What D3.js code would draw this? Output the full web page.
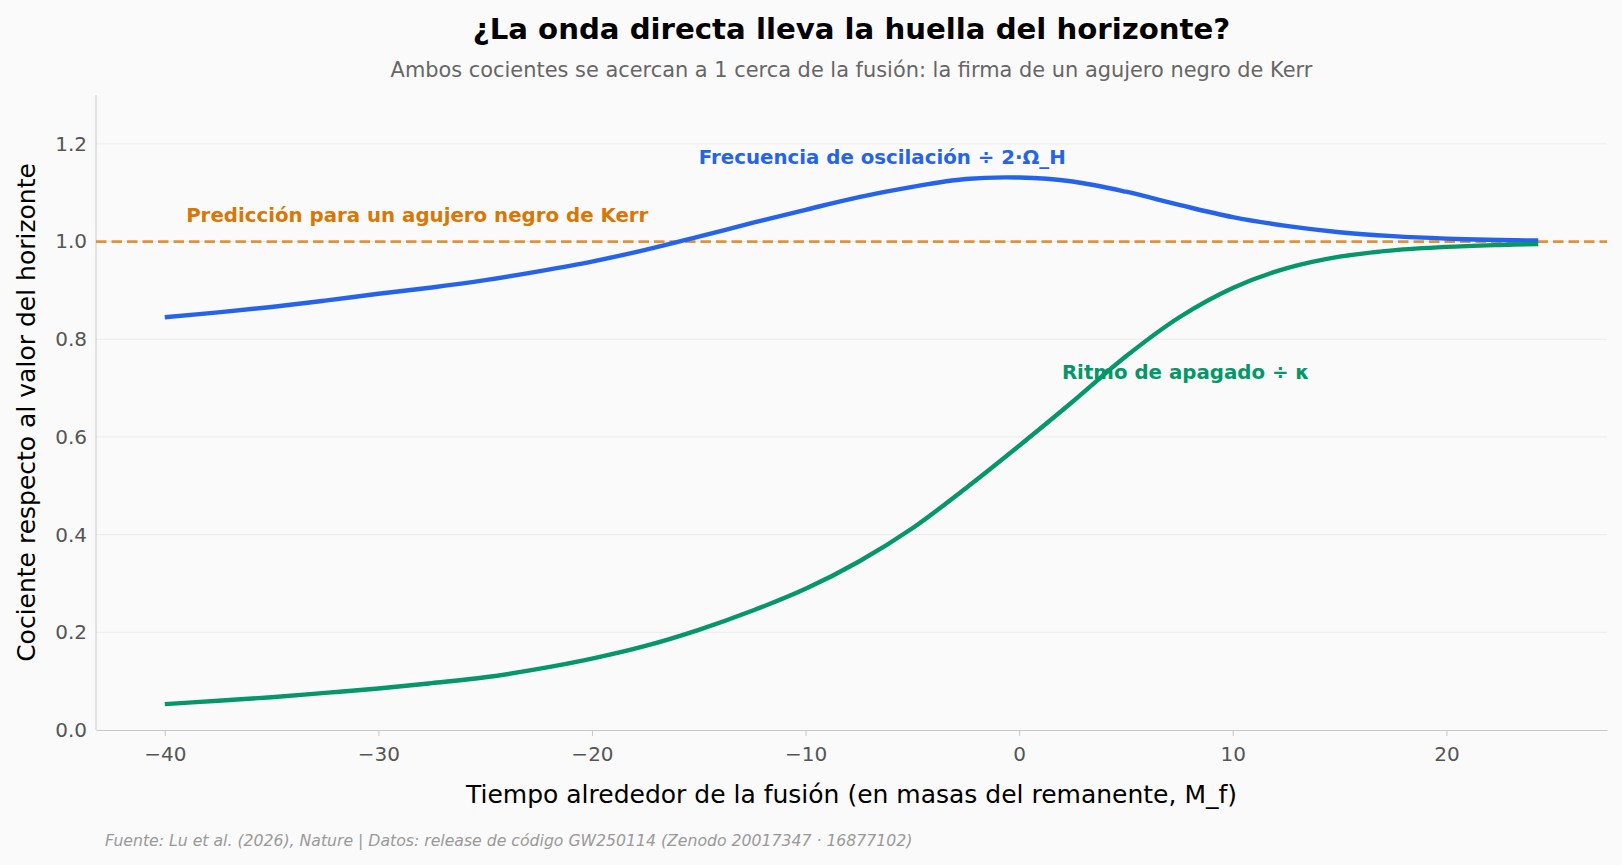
<!DOCTYPE html>
<html>
<head>
<meta charset="utf-8">
<script src="https://cdn.jsdelivr.net/npm/d3@7"></script>
<style>
  html, body { margin: 0; padding: 0; background: #fafafa; }
  svg { display: block; font-family: "DejaVu Sans", sans-serif; }
  .grid line { stroke: #ebebeb; stroke-width: 1; }
  .axis path, .axis line { stroke: #c8c8c8; }
  .axis text { fill: #555; font-size: 20px; font-family: "DejaVu Sans", sans-serif; }
</style>
</head>
<body>
<div id="chart"></div>
<script>
// time around merger (M_f) and the two ratios
const tiempo = [-40, -37.5, -35, -32.5, -30, -27.5, -25, -22.5, -20, -17.5, -15, -12.5, -10,
                -7.5, -5, -2.5, 0, 2.5, 5, 7.5, 10, 12.5, 15, 17.5, 20, 22.5, 24.3];
const frecuencia = [0.845, 0.855, 0.866, 0.879, 0.893, 0.906, 0.921, 0.939, 0.959, 0.983, 1.010, 1.038, 1.065,
                    1.091, 1.112, 1.128, 1.131, 1.123, 1.102, 1.075, 1.050, 1.032, 1.019, 1.011, 1.006, 1.003, 1.002];
const apagado = [0.053, 0.060, 0.067, 0.076, 0.085, 0.096, 0.108, 0.125, 0.146, 0.172, 0.205, 0.244, 0.289,
                 0.345, 0.413, 0.495, 0.582, 0.672, 0.765, 0.845, 0.905, 0.945, 0.969, 0.982, 0.989, 0.993, 0.995];
const xTicks = [-40, -30, -20, -10, 0, 10, 20];
const yTicks = [0, 0.2, 0.4, 0.6, 0.8, 1.0, 1.2];
const kerrValue = 1.0;

const W = 1622, H = 865;
const margin = { top: 95, right: 15, bottom: 135, left: 96 };
const innerW = W - margin.left - margin.right;
const innerH = H - margin.top - margin.bottom;

const svg = d3.select("#chart").append("svg")
    .attr("width", W)
    .attr("height", H);

svg.append("rect").attr("width", W).attr("height", H).attr("fill", "#fafafa");

const x = d3.scaleLinear().domain([-43.22, 27.52]).range([0, innerW]);
const y = d3.scaleLinear().domain([0, 1.3]).range([innerH, 0]);

const g = svg.append("g").attr("transform", `translate(${margin.left},${margin.top})`);

// horizontal grid
g.append("g").attr("class", "grid")
    .selectAll("line")
    .data(yTicks.filter(d => d > 0))
    .join("line")
    .attr("x1", 0).attr("x2", innerW)
    .attr("y1", d => y(d)).attr("y2", d => y(d));

// axes
const fmtMinus = d => (d < 0 ? "\u2212" + Math.abs(d) : "" + d);

const xAxis = g.append("g").attr("class", "axis")
    .attr("transform", `translate(0,${innerH})`)
    .call(d3.axisBottom(x).tickValues(xTicks).tickFormat(fmtMinus).tickSize(6).tickPadding(11).tickSizeOuter(0));
xAxis.selectAll(".tick line").attr("stroke", "#555");

const yAxis = g.append("g").attr("class", "axis")
    .call(d3.axisLeft(y).tickValues(yTicks).tickFormat(d3.format(".1f")).tickSize(0).tickPadding(9).tickSizeOuter(0));
yAxis.select(".domain").attr("d", `M0,${innerH}V0`);

// Kerr reference line
g.append("line")
    .attr("x1", 0).attr("x2", innerW)
    .attr("y1", y(kerrValue)).attr("y2", y(kerrValue))
    .attr("stroke", "#d97706")
    .attr("stroke-opacity", 0.78)
    .attr("stroke-width", 2.8)
    .attr("stroke-dasharray", "10.5,5");

// curves
const line = d3.line().curve(d3.curveCatmullRom.alpha(0.5));

const series = [
    { values: frecuencia, color: "#2563eb" },
    { values: apagado, color: "#059669" }
];

g.selectAll(".serie")
    .data(series)
    .join("path")
    .attr("class", "serie")
    .attr("fill", "none")
    .attr("stroke", d => d.color)
    .attr("stroke-width", 4.4)
    .attr("d", d => line(tiempo.map((t, i) => [x(t), y(d.values[i])])));

// annotations
const notes = [
    { text: "Predicción para un agujero negro de Kerr", t: -39, v: 1.054, color: "#d97706" },
    { text: "Frecuencia de oscilación ÷ 2·Ω_H", t: -15, v: 1.173, color: "#2563eb" },
    { text: "Ritmo de apagado ÷ κ", t: 2, v: 0.733, color: "#059669" }
];

g.selectAll(".note")
    .data(notes)
    .join("text")
    .attr("class", "note")
    .attr("x", d => x(d.t))
    .attr("y", d => y(d.v))
    .attr("dy", "0.35em")
    .attr("fill", d => d.color)
    .attr("font-weight", "bold")
    .attr("font-size", "19.8px")
    .text(d => d.text);

// titles and labels
const cx = margin.left + innerW / 2;

svg.append("text")
    .attr("x", cx).attr("y", 38.5)
    .attr("text-anchor", "middle")
    .attr("font-size", "29.2px")
    .attr("font-weight", "bold")
    .attr("fill", "#000")
    .text("¿La onda directa lleva la huella del horizonte?");

svg.append("text")
    .attr("x", cx).attr("y", 76.5)
    .attr("text-anchor", "middle")
    .attr("font-size", "20.9px")
    .attr("fill", "#666")
    .text("Ambos cocientes se acercan a 1 cerca de la fusión: la firma de un agujero negro de Kerr");

svg.append("text")
    .attr("x", cx).attr("y", 803)
    .attr("text-anchor", "middle")
    .attr("font-size", "25px")
    .attr("fill", "#000")
    .text("Tiempo alrededor de la fusión (en masas del remanente, M_f)");

svg.append("text")
    .attr("transform", `translate(35,${margin.top + innerH / 2}) rotate(-90)`)
    .attr("text-anchor", "middle")
    .attr("font-size", "25px")
    .attr("fill", "#000")
    .text("Cociente respecto al valor del horizonte");

svg.append("text")
    .attr("x", 105).attr("y", 846)
    .attr("font-size", "15.7px")
    .attr("font-style", "italic")
    .attr("fill", "#999")
    .text("Fuente: Lu et al. (2026), Nature | Datos: release de código GW250114 (Zenodo 20017347 · 16877102)");
</script>
</body>
</html>
